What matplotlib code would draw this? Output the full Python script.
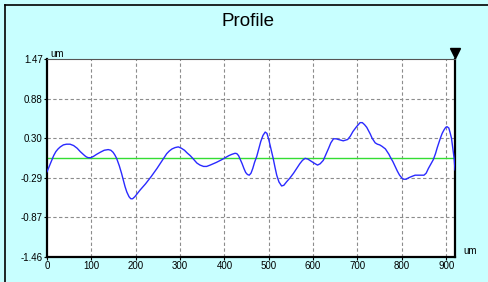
import matplotlib.pyplot as plt
from matplotlib.lines import Line2D

# Profile trace (position in um, height in um)
positions = [0, 5, 10, 15, 20, 25, 30, 37, 44, 52, 60, 68, 75, 80, 85, 89,
             93, 99, 105, 112, 120, 129, 138, 144, 149, 153, 157, 163, 168,
             172, 176, 180, 185, 189, 193, 198, 204, 210, 222, 235, 248, 259,
             265, 270, 276, 282, 289, 296, 303, 310, 316, 323, 330, 338, 345,
             353, 360, 368, 375, 382, 388, 394, 402, 410, 417, 424, 428, 432,
             436, 440, 444, 448, 452, 456, 460, 464, 468, 473, 477, 482, 487,
             492, 496, 500, 505, 510, 514, 518, 523, 529, 534, 540, 548, 556,
             563, 570, 576, 582, 588, 595, 602, 610, 616, 623, 629, 635, 640,
             646, 652, 657, 663, 668, 673, 678, 684, 690, 698, 706, 711, 716,
             721, 725, 729, 733, 737, 740, 745, 750, 755, 759, 763, 767, 771,
             774, 780, 785, 790, 795, 800, 804, 810, 815, 822, 830, 835, 840,
             845, 850, 855, 860, 866, 871, 876, 880, 884, 887, 891, 895, 899,
             902, 906, 909, 912, 914, 916, 918, 920]
heights = [-0.20, -0.12, -0.04, 0.04, 0.10, 0.14, 0.17, 0.20, 0.21, 0.21,
           0.19, 0.15, 0.10, 0.07, 0.04, 0.02, 0.01, 0.01, 0.03, 0.06, 0.09,
           0.12, 0.13, 0.12, 0.09, 0.05, 0.00, -0.11, -0.22, -0.32, -0.42,
           -0.50, -0.57, -0.60, -0.60, -0.57, -0.52, -0.47, -0.38, -0.27,
           -0.15, -0.04, 0.02, 0.07, 0.11, 0.14, 0.16, 0.17, 0.15, 0.12, 0.08,
           0.04, -0.01, -0.07, -0.10, -0.12, -0.12, -0.10, -0.08, -0.06,
           -0.04, -0.02, 0.01, 0.04, 0.06, 0.075, 0.07, 0.04, -0.02, -0.08,
           -0.15, -0.21, -0.24, -0.25, -0.22, -0.15, -0.06, 0.03, 0.13, 0.25,
           0.34, 0.39, 0.37, 0.28, 0.14, 0.00, -0.13, -0.25, -0.35, -0.41,
           -0.40, -0.35, -0.29, -0.22, -0.15, -0.08, -0.03, 0.00, -0.01,
           -0.04, -0.07, -0.10, -0.08, -0.03, 0.06, 0.15, 0.23, 0.29, 0.29,
           0.28, 0.27, 0.26, 0.27, 0.28, 0.33, 0.40, 0.47, 0.53, 0.53, 0.50,
           0.46, 0.41, 0.36, 0.30, 0.26, 0.23, 0.21, 0.20, 0.18, 0.16, 0.14,
           0.10, 0.06, 0.02, -0.05, -0.12, -0.19, -0.25, -0.29, -0.31, -0.31,
           -0.29, -0.27, -0.25, -0.25, -0.25, -0.25, -0.25, -0.22, -0.15,
           -0.08, -0.02, 0.07, 0.16, 0.24, 0.30, 0.37, 0.42, 0.46, 0.47, 0.45,
           0.38, 0.30, 0.20, 0.10, 0.00, -0.17]

y_ticks = [-1.46, -0.874, -0.288, 0.298, 0.884, 1.47]
y_tick_labels = ["-1.46", "-0.87", "-0.29", "0.30", "0.88", "1.47"]
x_ticks = [0, 100, 200, 300, 400, 500, 600, 700, 800, 900]
x_max = 920
mean_line = 0.0

BG = "#c8ffff"

fig = plt.figure(figsize=(4.89, 2.82), dpi=100, facecolor=BG)
ax = fig.add_axes([0.0961, 0.0897, 0.8344, 0.7000])
ax.set_facecolor("white")

# grid
for yt in y_ticks[1:-1]:
    ax.axhline(yt, color="#8c8c8c", lw=0.8, dashes=(3, 2.2), zorder=1)
for xt in x_ticks[1:]:
    ax.axvline(xt, color="#8c8c8c", lw=0.8, dashes=(3, 2.2), zorder=1)

# mean line and profile
ax.axhline(mean_line, color="#33dd33", lw=1.0, zorder=2)
ax.plot(positions, heights, color="#2a2aff", lw=1.0, zorder=3)

ax.set_xlim(0, x_max)
ax.set_ylim(y_ticks[0], y_ticks[-1])
ax.set_xticks(x_ticks)
ax.set_yticks(y_ticks)
ax.set_yticklabels(y_tick_labels)
ax.tick_params(length=2, width=0.8, pad=1, labelsize=7, colors="black")
for lbl in ax.get_xticklabels() + ax.get_yticklabels():
    lbl.set_fontfamily("Liberation Sans")

for side in ["left", "bottom", "right"]:
    ax.spines[side].set_linewidth(1.6)
    ax.spines[side].set_color("black")
ax.spines["top"].set_linewidth(0.8)
ax.spines["top"].set_color("#555555")

# cursor marker at the right end
ax.plot([x_max], [1.03], marker="v", markersize=7, color="black",
        transform=ax.get_xaxis_transform(), clip_on=False, zorder=5)

# unit labels
ax.text(0.008, 1.0, "um", transform=ax.transAxes, fontsize=7,
        family="Liberation Sans", ha="left", va="bottom")
ax.text(1.02, 0.03, "um", transform=ax.transAxes, fontsize=7,
        family="Liberation Sans", ha="left", va="center")

fig.text(0.507, 0.925, "Profile", ha="center", va="center", fontsize=13.5,
         family="Liberation Sans")

# partial frame of the window
fig.add_artist(Line2D([0.0102, 1.0], [0.982, 0.982], color="black", lw=1.2,
                      transform=fig.transFigure))
fig.add_artist(Line2D([0.0102, 0.0102], [0.0, 0.982], color="black", lw=1.2,
                      transform=fig.transFigure))

plt.savefig("out.png", dpi=100, facecolor=BG)
